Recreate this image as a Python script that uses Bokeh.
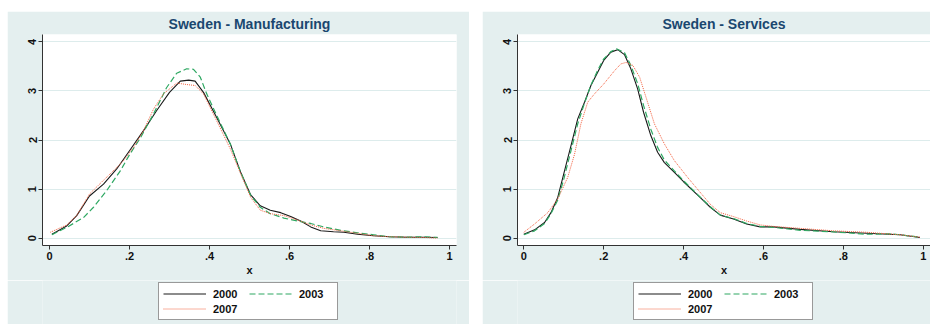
from bokeh.plotting import figure
from bokeh.models import FixedTicker, Legend, LegendItem, Range1d, Spacer
from bokeh.layouts import row, column
from bokeh.embed import file_html
from bokeh.resources import INLINE

# ---------------- data ----------------
years = ["2000", "2003", "2007"]

mfg_2000_x = [0.006, 0.043, 0.068, 0.10, 0.135, 0.168, 0.20, 0.235, 0.268, 0.30, 0.327, 0.348, 0.364, 0.385,
              0.418, 0.452, 0.477, 0.503, 0.527, 0.552, 0.578, 0.603, 0.628, 0.653, 0.678, 0.71, 0.736, 0.77,
              0.81, 0.85, 0.894, 0.936, 0.97]
mfg_2000_y = [0.08, 0.25, 0.46, 0.86, 1.10, 1.41, 1.78, 2.19, 2.60, 2.97, 3.20, 3.22, 3.20, 2.97,
              2.46, 1.92, 1.36, 0.88, 0.66, 0.57, 0.52, 0.44, 0.35, 0.23, 0.15, 0.13, 0.12, 0.08,
              0.05, 0.03, 0.02, 0.02, 0.015]

mfg_2003_x = [0.006, 0.043, 0.085, 0.11, 0.143, 0.177, 0.20, 0.227, 0.26, 0.293, 0.318, 0.343, 0.36, 0.377,
              0.393, 0.418, 0.452, 0.477, 0.503, 0.527, 0.552, 0.586, 0.62, 0.653, 0.686, 0.728, 0.77,
              0.81, 0.85, 0.894, 0.936, 0.97]
mfg_2003_y = [0.07, 0.22, 0.42, 0.63, 0.97, 1.37, 1.70, 2.04, 2.53, 3.07, 3.36, 3.45, 3.44, 3.28,
              2.94, 2.50, 1.92, 1.36, 0.87, 0.63, 0.50, 0.41, 0.35, 0.30, 0.23, 0.16, 0.11,
              0.07, 0.03, 0.02, 0.03, 0.015]

mfg_2007_x = [0.002, 0.043, 0.068, 0.10, 0.135, 0.168, 0.185, 0.21, 0.235, 0.26, 0.285, 0.318, 0.343, 0.364,
              0.385, 0.418, 0.452, 0.477, 0.503, 0.527, 0.552, 0.586, 0.62, 0.653, 0.686, 0.728, 0.77,
              0.81, 0.85, 0.894, 0.936, 0.97]
mfg_2007_y = [0.12, 0.27, 0.46, 0.90, 1.18, 1.44, 1.58, 1.85, 2.19, 2.63, 2.94, 3.16, 3.13, 3.11,
              2.94, 2.39, 1.82, 1.33, 0.83, 0.57, 0.50, 0.46, 0.37, 0.27, 0.20, 0.15, 0.10,
              0.05, 0.03, 0.02, 0.015, 0.0]

srv_2000_x = [0.0, 0.027, 0.052, 0.068, 0.085, 0.10, 0.118, 0.135, 0.152, 0.168, 0.185, 0.20, 0.218, 0.235,
              0.252, 0.268, 0.285, 0.30, 0.318, 0.335, 0.352, 0.377, 0.40, 0.44, 0.467, 0.492, 0.525,
              0.558, 0.592, 0.625, 0.692, 0.775, 0.858, 0.942, 0.992]
srv_2000_y = [0.08, 0.17, 0.32, 0.52, 0.83, 1.31, 1.88, 2.43, 2.77, 3.11, 3.38, 3.62, 3.79, 3.84,
              3.74, 3.45, 3.04, 2.56, 2.09, 1.75, 1.54, 1.34, 1.15, 0.84, 0.63, 0.47, 0.39,
              0.29, 0.23, 0.23, 0.18, 0.13, 0.10, 0.07, 0.014]

srv_2003_x = [0.0, 0.027, 0.052, 0.068, 0.085, 0.10, 0.118, 0.135, 0.152, 0.168, 0.185, 0.20, 0.218, 0.232,
              0.252, 0.268, 0.285, 0.30, 0.318, 0.335, 0.352, 0.377, 0.40, 0.44, 0.467, 0.492, 0.525,
              0.558, 0.592, 0.625, 0.692, 0.775, 0.858, 0.92, 0.992]
srv_2003_y = [0.07, 0.15, 0.30, 0.50, 0.78, 1.20, 1.78, 2.33, 2.75, 3.12, 3.42, 3.65, 3.80, 3.86,
              3.78, 3.52, 3.15, 2.70, 2.22, 1.85, 1.59, 1.37, 1.17, 0.85, 0.64, 0.47, 0.40,
              0.30, 0.24, 0.22, 0.16, 0.13, 0.08, 0.09, 0.02]

srv_2007_x = [0.0, 0.027, 0.06, 0.085, 0.11, 0.127, 0.143, 0.16, 0.177, 0.20, 0.227, 0.243, 0.256, 0.273,
              0.29, 0.306, 0.327, 0.352, 0.377, 0.41, 0.443, 0.467, 0.492, 0.525, 0.558, 0.592, 0.625,
              0.692, 0.775, 0.858, 0.942, 0.992]
srv_2007_y = [0.12, 0.29, 0.52, 0.80, 1.24, 1.71, 2.33, 2.77, 2.94, 3.14, 3.41, 3.55, 3.58, 3.52,
              3.28, 2.87, 2.33, 1.92, 1.58, 1.24, 0.92, 0.69, 0.52, 0.44, 0.35, 0.27, 0.24,
              0.20, 0.15, 0.12, 0.07, 0.02]

x_ticks = [0, 0.2, 0.4, 0.6, 0.8, 1]
x_tick_labels = ["0", ".2", ".4", ".6", ".8", "1"]
y_ticks = [0, 1, 2, 3, 4]
y_tick_labels = ["0", "1", "2", "3", "4"]

# ---------------- style ----------------
BG = "#E4EFEF"
GRID = "#DDECEC"
AXIS = "#333333"
FONT = "Liberation Sans"
STYLES = {
    "2000": dict(line_color="#1a1a1a", line_width=1.1, line_dash="solid"),
    "2003": dict(line_color="#2ea862", line_width=1.2, line_dash="6 3"),
    "2007": dict(line_color="#f2603f", line_width=1.0, line_dash="1 1"),
}


def make_panel(title, series, width, min_left, min_right, x_lo, x_hi):
    p = figure(width=width, height=269, output_backend="svg", toolbar_location=None,
               x_range=Range1d(x_lo, x_hi), y_range=Range1d(-0.149, 4.149),
               min_border_left=min_left, min_border_right=min_right,
               min_border_top=23, min_border_bottom=35)
    p.background_fill_color = "white"
    p.border_fill_color = BG
    p.outline_line_color = None

    p.title.text = title
    p.title.align = "center"
    p.title.text_font = FONT
    p.title.text_font_size = "14px"
    p.title.text_font_style = "bold"
    p.title.text_color = "#1A476F"
    p.title.standoff = 5

    p.xgrid.visible = False
    p.ygrid.ticker = FixedTicker(ticks=y_ticks)
    p.ygrid.grid_line_color = GRID
    p.ygrid.grid_line_width = 1

    xa = p.xaxis[0]
    xa.ticker = FixedTicker(ticks=x_ticks)
    xa.major_label_overrides = dict(zip(x_ticks, x_tick_labels))
    xa.axis_label = "x"
    xa.axis_label_standoff = 1
    xa.axis_label_text_font = FONT
    xa.axis_label_text_font_size = "11px"
    xa.axis_label_text_font_style = "bold"
    xa.axis_label_text_color = "#111111"

    ya = p.yaxis[0]
    ya.ticker = FixedTicker(ticks=y_ticks)
    ya.major_label_overrides = dict(zip(y_ticks, y_tick_labels))
    ya.major_label_orientation = "vertical"

    for ax in (xa, ya):
        ax.axis_line_color = AXIS
        ax.axis_line_width = 1
        ax.major_tick_line_color = AXIS
        ax.major_tick_out = 4
        ax.major_tick_in = 0
        ax.minor_tick_line_color = None
        ax.major_label_standoff = 2
        ax.major_label_text_font = FONT
        ax.major_label_text_font_size = "11px"
        ax.major_label_text_font_style = "bold"
        ax.major_label_text_color = "#111111"

    for yr, (xs, ys) in zip(years, series):
        p.line(xs, ys, **STYLES[yr])
    return p


def make_legend(width, series, left):
    # legend strip below the panel; its frame is aligned with the panel frame.
    # The series are drawn out of view (y range far below the data) so that
    # only their legend glyphs show.
    lf = figure(width=width, height=44, output_backend="svg", toolbar_location=None,
                x_range=Range1d(0, 1), y_range=Range1d(-20, -19),
                x_axis_type=None, y_axis_type=None,
                min_border_left=0, min_border_right=0, min_border_top=0, min_border_bottom=0)
    lf.background_fill_color = BG
    lf.border_fill_color = BG
    lf.outline_line_color = None
    lf.grid.visible = False
    rs = {yr: lf.line(xs, ys, **STYLES[yr]) for yr, (xs, ys) in zip(years, series)}
    legend = Legend(items=[LegendItem(label=yr, renderers=[rs[yr]]) for yr in years],
                    orientation="horizontal", ncols=2, location=(left, 4))
    legend.glyph_width = 43
    legend.glyph_height = 13
    legend.label_width = 34
    legend.label_height = 13
    legend.label_standoff = 7
    legend.spacing = 2
    legend.padding = 4
    legend.margin = 0
    legend.label_text_font = FONT
    legend.label_text_font_size = "11px"
    legend.label_text_font_style = "bold"
    legend.label_text_color = "#111111"
    legend.border_line_color = "#333333"
    legend.border_line_width = 1
    legend.background_fill_color = "white"
    legend.background_fill_alpha = 1
    lf.add_layout(legend, "center")
    return lf


mfg_series = [(mfg_2000_x, mfg_2000_y), (mfg_2003_x, mfg_2003_y), (mfg_2007_x, mfg_2007_y)]
srv_series = [(srv_2000_x, srv_2000_y), (srv_2003_x, srv_2003_y), (srv_2007_x, srv_2007_y)]

p1 = make_panel("Sweden - Manufacturing", mfg_series, 462, 35, 13, -0.0175, 1.0175)
p2 = make_panel("Sweden - Services", srv_series, 448, 35, 0, -0.0158, 1.0183)
l1 = make_legend(462, mfg_series, 116)
l2 = make_legend(448, srv_series, 116)

layout = column(Spacer(height=11),
                row(Spacer(width=7), column(p1, l1), Spacer(width=13), column(p2, l2)))

open("out.html", "w").write(file_html(layout, INLINE))
